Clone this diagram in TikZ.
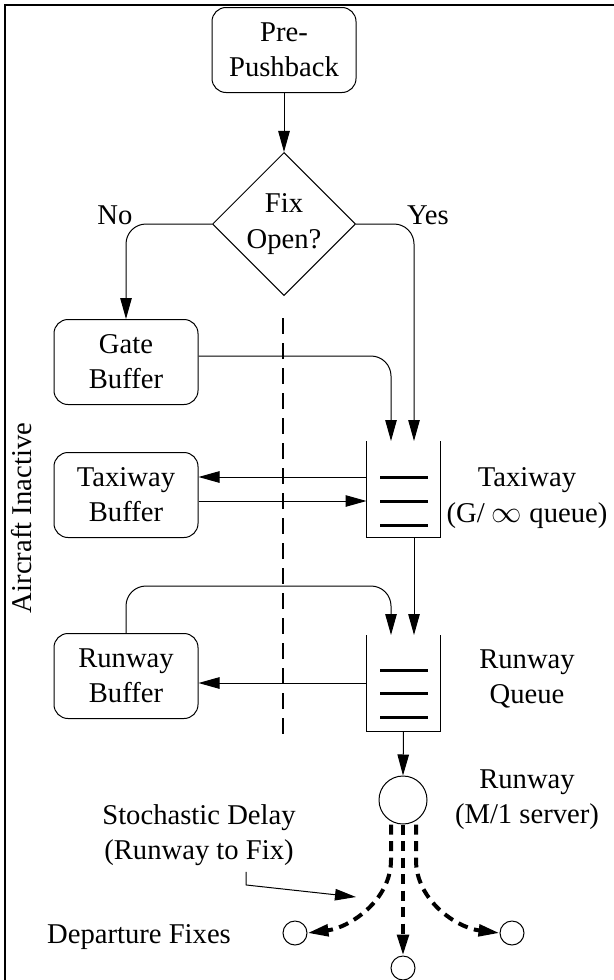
\documentclass[tikz,border=0pt]{standalone}
\usepackage{fontspec}
\setmainfont{Liberation Serif}
\usetikzlibrary{shapes.geometric,arrows.meta}

\begin{document}
\begin{tikzpicture}[font=\fontsize{16.3}{20}\selectfont, line width=0.02cm,
	>={Stealth[length=0.42cm,width=0.23cm,inset=0pt]},
	buf/.style={draw, rectangle, rounded corners=0.28cm, minimum width=2.88cm, minimum height=1.7cm, align=center},
	que/.style={rectangle, minimum width=1.46cm, minimum height=1.9cm},
	fix/.style={draw, circle, minimum size=0.48cm, inner sep=0pt},
	lbl/.style={align=center},
	delay/.style={line width=0.08cm, dash pattern=on 0.2cm off 0.13cm}]
	\useasboundingbox (0,0) rectangle (12.26,-19.6);
	\draw[line width=0.05cm] (0.1,-20) -- (0.1,-0.1) -- (13,-0.1);
	% flow chart
	\node[buf] (PP)at(5.68, -1.0) {Pre-\\Pushback};
	\node[draw, diamond, aspect=1, minimum size=2.86cm, inner sep=0pt, align=center] (FO)at(5.68, -4.48) {Fix\\Open?};
	\node (NO)at(2.3, -4.3) {No};
	\node (YS)at(8.56, -4.3) {Yes};
	\node[buf] (GB)at(2.52, -7.24) {Gate\\Buffer};
	\node[buf] (TB)at(2.52, -9.9) {Taxiway\\Buffer};
	\node[buf] (RB)at(2.52, -13.52) {Runway\\Buffer};
	\node[que] (TQ)at(8.07, -9.78) {};
	\node[que] (RQ)at(8.07, -13.66) {};
	\node[lbl] (TL)at(10.54, -9.96) {Taxiway\\(G/ $\infty$ queue)};
	\node[lbl] (QL)at(10.54, -13.58) {Runway\\Queue};
	\node[draw, circle, minimum size=0.96cm, inner sep=0pt] (RW)at(8.06, -16.0) {};
	\node[lbl] (RL)at(10.54, -16.0) {Runway\\(M/1 server)};
	\node[lbl] (SD)at(3.98, -16.7) {Stochastic Delay\\(Runway to Fix)};
	\node (DF)at(2.78, -18.74) {Departure Fixes};
	\node[rotate=90] (AI)at(0.44, -10.36) {Aircraft Inactive};
	\node[fix] (LF)at(5.9, -18.66) {};
	\node[fix] (RF)at(10.24, -18.66) {};
	\node[fix] (BF)at(8.06, -19.36) {};
	% queues
	\draw (TQ.north west) -- (TQ.south west) -- (TQ.south east) -- (TQ.north east);
	\draw (RQ.north west) -- (RQ.south west) -- (RQ.south east) -- (RQ.north east);
	\foreach \y in {-9.54, -10.02, -10.5, -13.4, -13.86, -14.34}
		\draw[line width=0.06cm] (7.6, \y) -- (8.56, \y);
	\draw[dashed, line width=0.03cm, dash pattern=on 0.32cm off 0.18cm] (5.66, -6.36) -- (5.66, -14.8);
	% connectors
	\draw[->] (PP) -- (FO);
	\draw[->, rounded corners=0.4cm] (FO.west) -| (GB.north);
	\draw[->, rounded corners=0.4cm] (FO.east) -| (TQ.north -| 8.28,0);
	\draw[->, rounded corners=0.4cm] ([yshift=0.12cm]GB.east) -| (TQ.north -| 7.82,0);
	\draw[->] (TQ.west |- 0,-9.54) -- (TB.east |- 0,-9.54);
	\draw[->] (TB.east |- 0,-10.02) -- (TQ.west |- 0,-10.02);
	\draw[->] (TQ.south -| 8.28,0) -- (RQ.north -| 8.28,0);
	\draw[->, rounded corners=0.4cm] (RB.north) |- (5,-11.72) -| (RQ.north -| 7.82,0);
	\draw[->] (RQ.west) -- (RB.east |- RQ.west);
	\draw[->] (RQ.south) -- (RW.north);
	% delays to the fixes
	\draw[->, delay] (RW.south -| 7.82,0) -- (7.82,-17.2) .. controls (7.82,-18.0) and (7.0,-18.55) .. (LF.east);
	\draw[->, delay] (RW.south) -- (BF.north);
	\draw[->, delay] (RW.south -| 8.32,0) -- (8.32,-17.2) .. controls (8.32,-18.0) and (9.12,-18.55) .. (RF.west);
	\coordinate (DL)at(7.12, -17.94);
	\draw[->] ([xshift=0.94cm]SD.south) -- ++(0,-0.26) -- (DL);
\end{tikzpicture}
\end{document}
